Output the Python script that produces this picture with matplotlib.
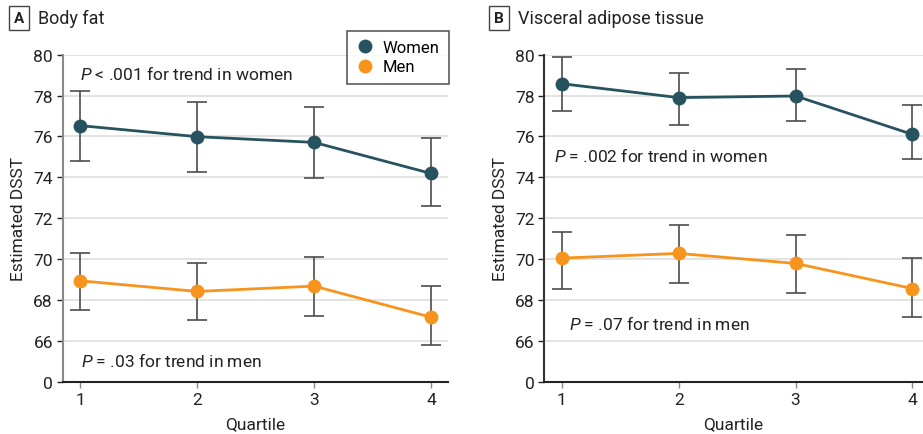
import matplotlib
matplotlib.use("Agg")
import matplotlib.pyplot as plt
from matplotlib.lines import Line2D

FONT = "Roboto"
plt.rcParams['font.family'] = [FONT, 'DejaVu Sans']
plt.rcParams['mathtext.fontset'] = 'custom'
plt.rcParams['mathtext.it'] = 'Roboto:italic'
plt.rcParams['mathtext.rm'] = 'Roboto'

quartiles = [1, 2, 3, 4]
yticks = [64, 66, 68, 70, 72, 74, 76, 78, 80]
yticklabels = ["0", "66", "68", "70", "72", "74", "76", "78", "80"]

# Panel A: Body fat
a_women = [76.53, 75.99, 75.71, 74.19]
a_women_lo = [74.78, 74.24, 73.98, 72.58]
a_women_hi = [78.24, 77.70, 77.44, 75.91]
a_men = [68.94, 68.42, 68.68, 67.16]
a_men_lo = [67.50, 67.00, 67.23, 65.82]
a_men_hi = [70.31, 69.80, 70.10, 68.70]

# Panel B: Visceral adipose tissue
b_women = [78.58, 77.90, 77.98, 76.10]
b_women_lo = [77.23, 76.54, 76.75, 74.88]
b_women_hi = [79.89, 79.10, 79.30, 77.54]
b_men = [70.05, 70.28, 69.79, 68.56]
b_men_lo = [68.56, 68.83, 68.35, 67.15]
b_men_hi = [71.34, 71.68, 71.16, 70.05]

WOMEN_C = "#26535f"
MEN_C = "#f7941d"
ERR_C = "#4d4d4d"
TXT = "#222222"

fig = plt.figure(figsize=(9.23, 4.35), dpi=100)
axA = fig.add_axes([0.0679, 0.120, 0.4175, 0.752])
axB = fig.add_axes([0.5897, 0.120, 0.4103, 0.752])

def draw(ax, w, wlo, whi, m, mlo, mhi, xmax, spine_c):
    for ys, lo, hi, c in [(w, wlo, whi, WOMEN_C), (m, mlo, mhi, MEN_C)]:
        err = [[v - l for v, l in zip(ys, lo)], [h - v for v, h in zip(ys, hi)]]
        ax.errorbar(quartiles, ys, yerr=err, fmt='none', ecolor=ERR_C,
                    elinewidth=1.2, capsize=7, capthick=1.2, zorder=2)
        ax.plot(quartiles, ys, color=c, lw=2, marker='o', ms=10,
                markeredgewidth=0, zorder=3)
    ax.set_xlim(0.85, xmax)
    ax.set_ylim(64, 80)
    ax.set_yticks(yticks)
    ax.set_yticklabels(yticklabels)
    ax.set_xticks(quartiles)
    ax.set_xticklabels([str(q) for q in quartiles])
    ax.grid(axis='y', color='#dedede', lw=1.2, zorder=0)
    ax.set_axisbelow(True)
    for s in ['top', 'right']:
        ax.spines[s].set_visible(False)
    ax.spines['left'].set_color(spine_c)
    ax.spines['left'].set_linewidth(1.5)
    ax.spines['bottom'].set_color(TXT)
    ax.spines['bottom'].set_linewidth(1.5)
    ax.tick_params(axis='both', labelsize=12.5, colors=TXT, length=4,
                   width=1, pad=3)
    ax.tick_params(axis='x', color='#888888', pad=3)
    ax.set_xlabel("Quartile", fontsize=12.5, color=TXT, labelpad=7)
    ax.set_ylabel("Estimated DSST", fontsize=12.5, color=TXT, labelpad=5)

draw(axA, a_women, a_women_lo, a_women_hi, a_men, a_men_lo, a_men_hi, 4.145, '#8a8a8a')
draw(axB, b_women, b_women_lo, b_women_hi, b_men, b_men_lo, b_men_hi, 4.09, '#333333')

axA.text(1.0, 79.09, r"$P$ < .001 for trend in women", fontsize=12.5, color=TXT, va='center')
axA.text(1.01, 65.07, r"$P$ = .03 for trend in men", fontsize=12.5, color=TXT, va='center')
axB.text(0.93, 75.09, r"$P$ = .002 for trend in women", fontsize=12.5, color=TXT, va='center')
axB.text(1.06, 66.9, r"$P$ = .07 for trend in men", fontsize=12.5, color=TXT, va='center')

handles = [Line2D([], [], ls='none', marker='o', ms=10, color=WOMEN_C, markeredgewidth=0),
           Line2D([], [], ls='none', marker='o', ms=10, color=MEN_C, markeredgewidth=0)]
leg = fig.legend(handles, ["Women", "Men"], loc='upper left',
                 bbox_to_anchor=(347 / 923, 1 - 32 / 435), borderaxespad=0,
                 fontsize=12, frameon=True, fancybox=False, edgecolor='#333333',
                 handletextpad=0.6, borderpad=0.55, labelspacing=0.25,
                 handlelength=1.0)
leg.get_frame().set_linewidth(1.2)

# Panel labels
for x, lab, title in [(10 / 923, "A", "Body fat"), (490 / 923, "B", "Visceral adipose tissue")]:
    fig.text(x + 9 / 923, 1 - 19 / 435, lab, fontsize=11, fontweight='bold', color=TXT,
             ha='center', va='center',
             bbox=dict(boxstyle='square,pad=0.3', fc='white', ec='#444444', lw=1))
    fig.text(x + 28 / 923, 1 - 19 / 435, title, fontsize=13, color=TXT,
             ha='left', va='center')

fig.savefig("out.png", dpi=100)
